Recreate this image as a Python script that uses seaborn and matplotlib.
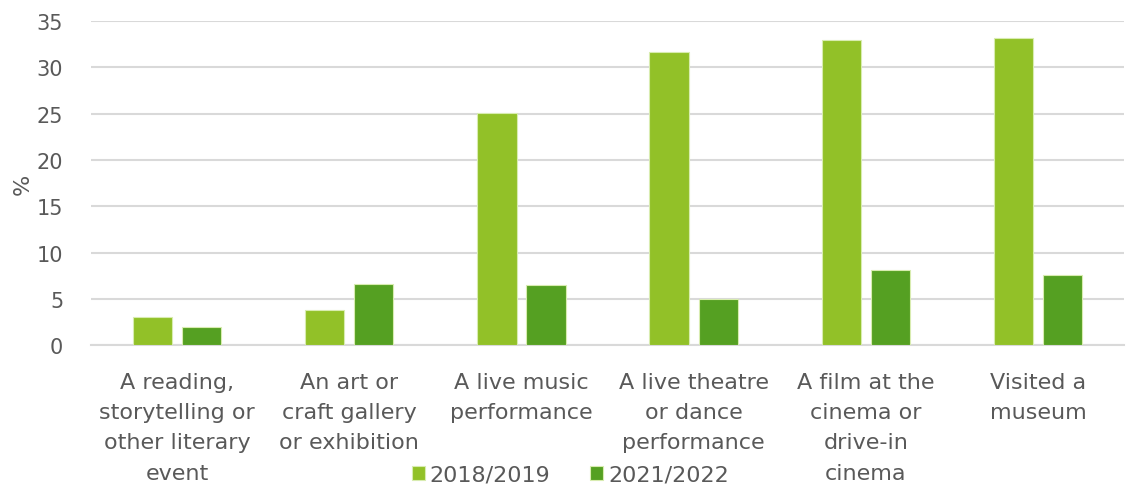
import matplotlib
matplotlib.use("Agg")
import matplotlib.pyplot as plt
import seaborn as sns
import pandas as pd

categories = [
    "A reading,\nstorytelling or\nother literary\nevent",
    "An art or\ncraft gallery\nor exhibition",
    "A live music\nperformance",
    "A live theatre\nor dance\nperformance",
    "A film at the\ncinema or\ndrive-in\ncinema",
    "Visited a\nmuseum",
]
series_names = ["2018/2019", "2021/2022"]
values_2018 = [3.0, 3.8, 25.1, 31.7, 32.9, 33.2]
values_2021 = [2.0, 6.6, 6.5, 5.0, 8.1, 7.6]
yticks = [0, 5, 10, 15, 20, 25, 30, 35]

colors = ["#92C128", "#55A022"]
text_color = "#595959"

rows = []
for c, a, b in zip(categories, values_2018, values_2021):
    rows.append({"cat": c, "series": series_names[0], "val": a})
    rows.append({"cat": c, "series": series_names[1], "val": b})
df = pd.DataFrame(rows)

sns.set_theme(style="white")
plt.rcParams["font.family"] = ["DejaVu Sans"]

fig = plt.figure(figsize=(11.29, 4.89), dpi=100)
ax = fig.add_axes([0.0806, 0.292, 0.915, 0.663])

sns.barplot(data=df, x="cat", y="val", hue="series", order=categories,
            hue_order=series_names, palette=colors, width=0.57, gap=0.2,
            edgecolor="#D8ECB0", linewidth=0.8, ax=ax, legend=True,
            saturation=1, zorder=3)

ax.set_ylim(0, 35)
ax.set_yticks(yticks)
ax.set_yticklabels([str(t) for t in yticks], fontsize=15, color=text_color)
ax.yaxis.grid(True, color="#D9D9D9", linewidth=1.5, zorder=0)
ax.set_axisbelow(True)
for s in ["top", "right", "left"]:
    ax.spines[s].set_visible(False)
ax.spines["bottom"].set_color("#D9D9D9")
ax.spines["bottom"].set_linewidth(1.5)
ax.tick_params(axis="both", length=0)
ax.tick_params(axis="y", pad=20)
ax.set_xticks(range(len(categories)))
ax.set_xticklabels(categories, fontsize=16, color=text_color, linespacing=1.65)
ax.tick_params(axis="x", pad=19)
ax.set_xlabel("")
ax.set_ylabel("%", fontsize=16, color=text_color, labelpad=3)
ax.set_xlim(-0.5, 5.5)

handles, labels = ax.get_legend_handles_labels()
ax.get_legend().remove()
fig.legend(handles, labels, loc="center", bbox_to_anchor=(0.505, 0.027), ncol=2,
           frameon=False, fontsize=16, labelcolor=text_color,
           handlelength=0.6, handleheight=0.6, handletextpad=0.2,
           columnspacing=1.8)

fig.savefig("out.png", dpi=100)
